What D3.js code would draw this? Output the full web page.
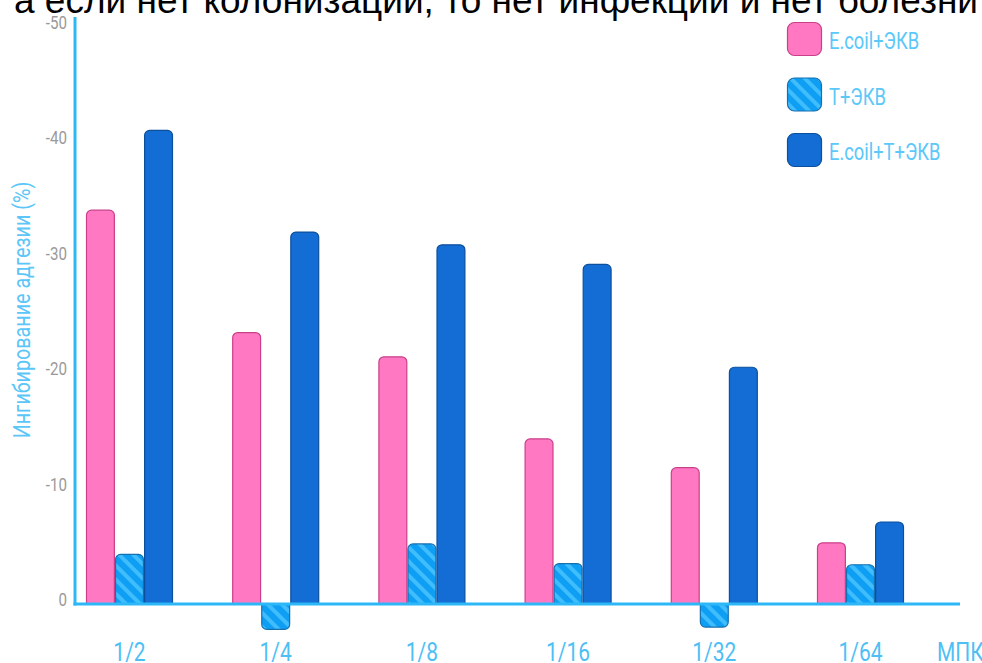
<!DOCTYPE html>
<html>
<head>
<meta charset="utf-8">
<script src="https://cdn.jsdelivr.net/npm/d3@7"></script>
<style>
  html, body { margin: 0; padding: 0; background: #fff; }
  svg { display: block; }
</style>
</head>
<body>
<svg id="chart" width="982" height="663"></svg>
<script>
// Dilutions of the minimal inhibitory concentration
const categories = ["1/2", "1/4", "1/8", "1/16", "1/32", "1/64"];
const seriesNames = ["E.coil+ЭКВ", "T+ЭКВ", "E.coil+T+ЭКВ"];
// Adhesion inhibition, %
const ecoliEkv  = [-34.1, -23.5, -21.4, -14.3, -11.8, -5.3];
const tEkv      = [-4.3, 2.2, -5.2, -3.5, 2.0, -3.4];
const ecoliTEkv = [-41.0, -32.2, -31.1, -29.4, -20.5, -7.1];
const yTicks = [0, -10, -20, -30, -40, -50];
const titleText = "а если нет колонизации, то нет инфекции и нет болезни";
const yAxisTitle = "Ингибирование адгезии (%)";
const xAxisTitle = "МПК";

const seriesValues = [ecoliEkv, tEkv, ecoliTEkv];
const fills   = ["#ff78c1", "url(#stripes)", "#136dd4"];
const strokes = ["#c9408a", "#1670b0", "#0c4f9c"];

// condensed look: Roboto squeezed horizontally
const labelFont = "Roboto, 'Liberation Sans', sans-serif";
const svg = d3.select("#chart");

function placeText(sel, px, py, rot, k) {
  const sx = k || 0.84;
  sel.attr("transform", `translate(${px},${py})${rot ? ` rotate(${rot})` : ""} scale(${sx},1)`);
}

// stripe pattern for the T+ЭКВ series
const defs = svg.append("defs");
const pat = defs.append("pattern")
  .attr("id", "stripes")
  .attr("patternUnits", "userSpaceOnUse")
  .attr("width", 10).attr("height", 10)
  .attr("patternTransform", "rotate(-45)");
pat.append("rect").attr("width", 10).attr("height", 10).attr("fill", "#0e9ef3");
pat.append("rect").attr("width", 4).attr("height", 10).attr("fill", "#3fbdfd");

// scales
const x = d3.scalePoint().domain(categories).range([129.5, 860.5]);
const xi = d3.scaleBand().domain(seriesNames).range([-43, 43]).paddingInner(0.04);
const y = d3.scaleLinear().domain([0, -50]).range([604, 26.5]);

// title line (partly cropped at the top)
svg.append("text")
  .attr("x", 14).attr("y", 13)
  .attr("font-family", "'Liberation Sans', Arial, sans-serif")
  .attr("font-size", 37)
  .attr("fill", "#000")
  .text(titleText);

// bar with rounded corners at its far end only
function barPath(x0, w, yBase, yEnd, r) {
  const up = yEnd < yBase;
  const h = Math.abs(yBase - yEnd);
  r = Math.min(r, h, w / 2);
  const p = d3.path();
  const s = up ? 1 : -1;
  p.moveTo(x0, yBase);
  p.lineTo(x0, yEnd + s * r);
  p.arcTo(x0, yEnd, x0 + r, yEnd, r);
  p.lineTo(x0 + w - r, yEnd);
  p.arcTo(x0 + w, yEnd, x0 + w, yEnd + s * r, r);
  p.lineTo(x0 + w, yBase);
  p.closePath();
  return p.toString();
}

const barData = [];
categories.forEach((c, i) => {
  seriesNames.forEach((s, j) => {
    barData.push({ cat: c, series: s, si: j, value: seriesValues[j][i] });
  });
});

svg.append("g").selectAll("path")
  .data(barData)
  .join("path")
  .attr("d", d => barPath(x(d.cat) + xi(d.series), xi.bandwidth(), y(0), y(d.value), 5))
  .attr("fill", d => fills[d.si])
  .attr("stroke", d => strokes[d.si])
  .attr("stroke-width", 1.2);

// axes
const axisColor = "#2db7f7";
svg.append("line")
  .attr("x1", 75).attr("x2", 75)
  .attr("y1", 17).attr("y2", y(0) + 1.5)
  .attr("stroke", axisColor).attr("stroke-width", 3);
svg.append("line")
  .attr("x1", 73.5).attr("x2", 960)
  .attr("y1", y(0)).attr("y2", y(0))
  .attr("stroke", axisColor).attr("stroke-width", 3);

// y tick labels
svg.append("g").selectAll("text")
  .data(yTicks)
  .join("text")
  .each(function (d) { placeText(d3.select(this), 67, y(d) + 2); })
  .attr("text-anchor", "end")
  .attr("font-family", labelFont)
  .attr("font-size", 18)
  .attr("fill", "#9a9a9a")
  .text(d => d);

// y axis title
svg.append("text")
  .call(placeText, 30, 310, -90)
  .attr("text-anchor", "middle")
  .attr("font-family", labelFont)
  .attr("font-size", 23.5)
  .attr("fill", "#5cc6f8")
  .text(yAxisTitle);

// x tick labels
const labelColor = "#4ebff5";
svg.append("g").selectAll("text")
  .data(categories)
  .join("text")
  .each(function (d) { placeText(d3.select(this), x(d), 661); })
  .attr("text-anchor", "middle")
  .attr("font-family", labelFont)
  .attr("font-size", 25)
  .attr("fill", labelColor)
  .text(d => d);

svg.append("text")
  .call(placeText, 937, 661)
  .attr("font-family", labelFont)
  .attr("font-size", 25)
  .attr("fill", labelColor)
  .text(xAxisTitle);

// legend
const legend = svg.append("g").selectAll("g")
  .data(seriesNames)
  .join("g")
  .attr("transform", (d, i) => `translate(787,${22 + i * 55.5})`);
legend.append("rect")
  .attr("x", 0.5).attr("y", 0.5)
  .attr("width", 34).attr("height", 33)
  .attr("rx", 7)
  .attr("fill", (d, i) => fills[i])
  .attr("stroke", (d, i) => strokes[i])
  .attr("stroke-width", 1.2);
legend.append("text")
  .each(function () { placeText(d3.select(this), 42, 27, 0, 0.78); })
  .attr("font-family", labelFont)
  .attr("font-size", 23.5)
  .attr("fill", "#5cc8fa")
  .text(d => d);
</script>
</body>
</html>
